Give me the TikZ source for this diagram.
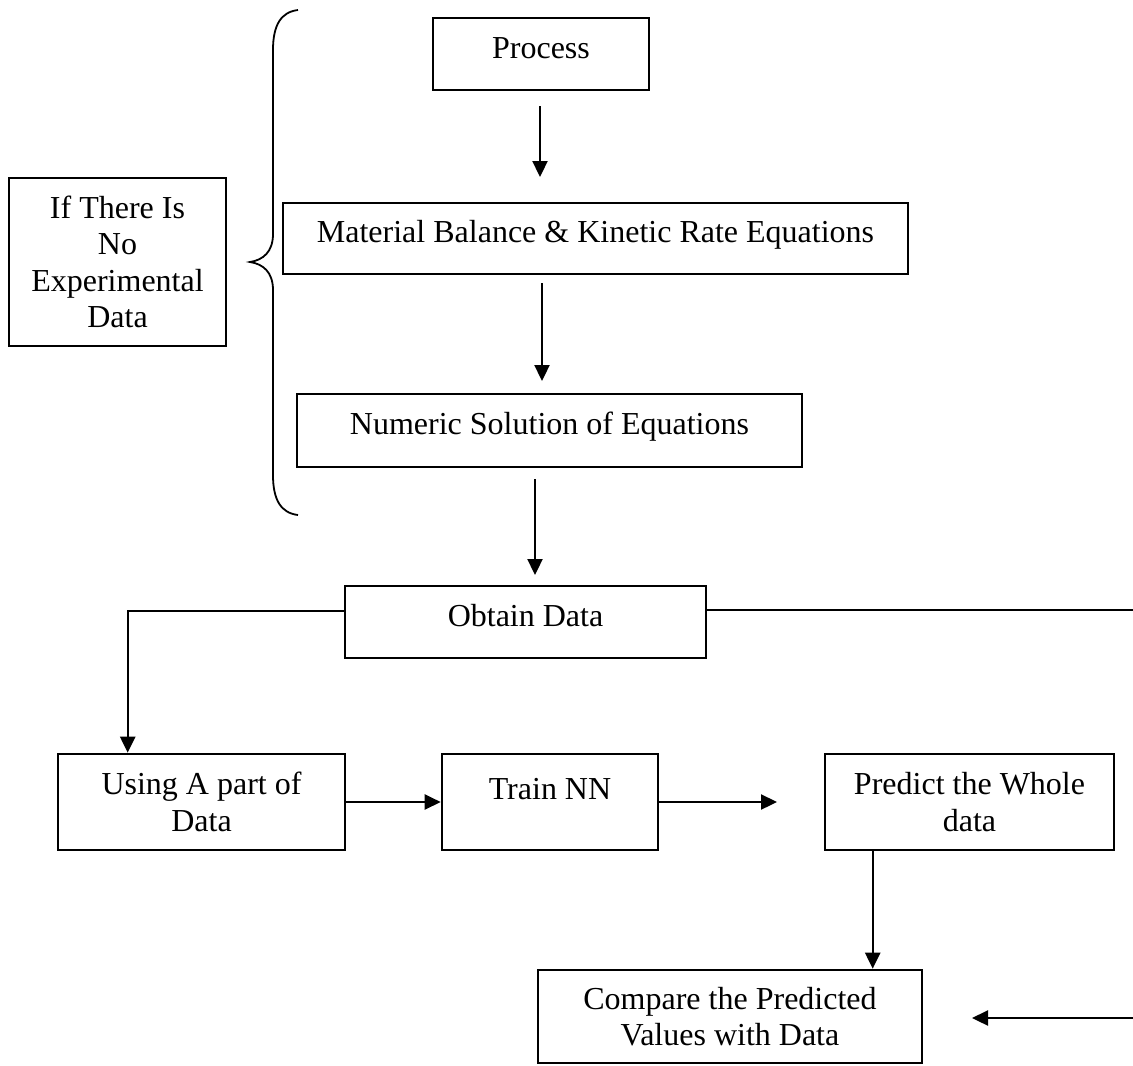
\documentclass[tikz,border=0pt]{standalone}
\usepackage{fontspec}
\setmainfont{Liberation Serif}
\usetikzlibrary{arrows.meta}
\begin{document}
\begin{tikzpicture}[x=1pt,y=-1pt,
  frame/.style={draw, line width=2.6pt, inner sep=0pt, align=center,
    font=\fontsize{32}{36.5}\selectfont},
  box/.style={frame, text height=1.05em, text depth=0.25em},
  multibox/.style={frame},
  arr/.style={line width=2.3pt, -{Triangle[length=16pt,width=15pt]}},
  link/.style={line width=2.3pt}]
\clip (0,0) rectangle (1133,1066);
\fill[white] (0,0) rectangle (1133,1066);

% main chain of steps
\node[box, minimum width=216pt, minimum height=72pt] (proc) at (541,54) {Process};
\node[box, minimum width=625pt, minimum height=71pt] (mat) at (595.5,238.5) {Material Balance \& Kinetic Rate Equations};
\node[box, minimum width=505pt, minimum height=73pt] (num) at (549.5,430.5) {Numeric Solution of Equations};
\node[box, minimum width=361pt, minimum height=72pt] (obt) at (525.5,622) {Obtain Data};

% condition box and its brace
\node[multibox, minimum width=217pt, minimum height=168pt] (nodata) at (117.5,262) {If There Is\\No\\Experimental\\Data};
\draw[line width=1.8pt] (298,10) .. controls (281,12) and (273,25) .. (273,50)
  -- (273,234) .. controls (273,252) and (263,260) .. (250,262)
  .. controls (263,264) and (273,272) .. (273,290)
  -- (273,475) .. controls (273,500) and (281,513) .. (298,515);

% network stage
\node[multibox, minimum width=287pt, minimum height=96pt] (use) at (201.5,802) {Using A part of\\Data};
\node[frame, text height=0.98em, text depth=1.55em, minimum width=216pt, minimum height=96pt] (train) at (550,802) {Train NN};
\node[multibox, minimum width=289pt, minimum height=96pt] (pred) at (969.5,802) {Predict the Whole\\data};
\node[multibox, minimum width=384pt, minimum height=93pt] (cmp) at (730,1016.5) {Compare the Predicted\\Values with Data};

% free ends of the arrows
\coordinate (a1s) at (540,106);
\coordinate (a1e) at (540,177);
\coordinate (a2s) at (542,283);
\coordinate (a2e) at (542,381);
\coordinate (a3s) at (535,479);
\coordinate (a3e) at (535,575);
\coordinate (tne) at (777,802);
\coordinate (rtop) at (1145,610);
\coordinate (rbot) at (1145,1018);
\coordinate (rend) at (972,1018);

\draw[arr] (a1s) -- (a1e);
\draw[arr] (a2s) -- (a2e);
\draw[arr] (a3s) -- (a3e);

\draw[arr] ([yshift=11pt]obt.west) -| ([xshift=71pt]use.north west);
\draw[link] ([yshift=12pt]obt.east) -- (rtop) -- (rbot);
\draw[arr] (rbot) -- (rend);

\draw[arr] (use.east) -- (train.west);
\draw[arr] (train.east) -- (tne);
\draw[arr] ([xshift=49pt]pred.south west) -- ([xshift=49pt]pred.south west |- cmp.north);
\end{tikzpicture}
\end{document}
